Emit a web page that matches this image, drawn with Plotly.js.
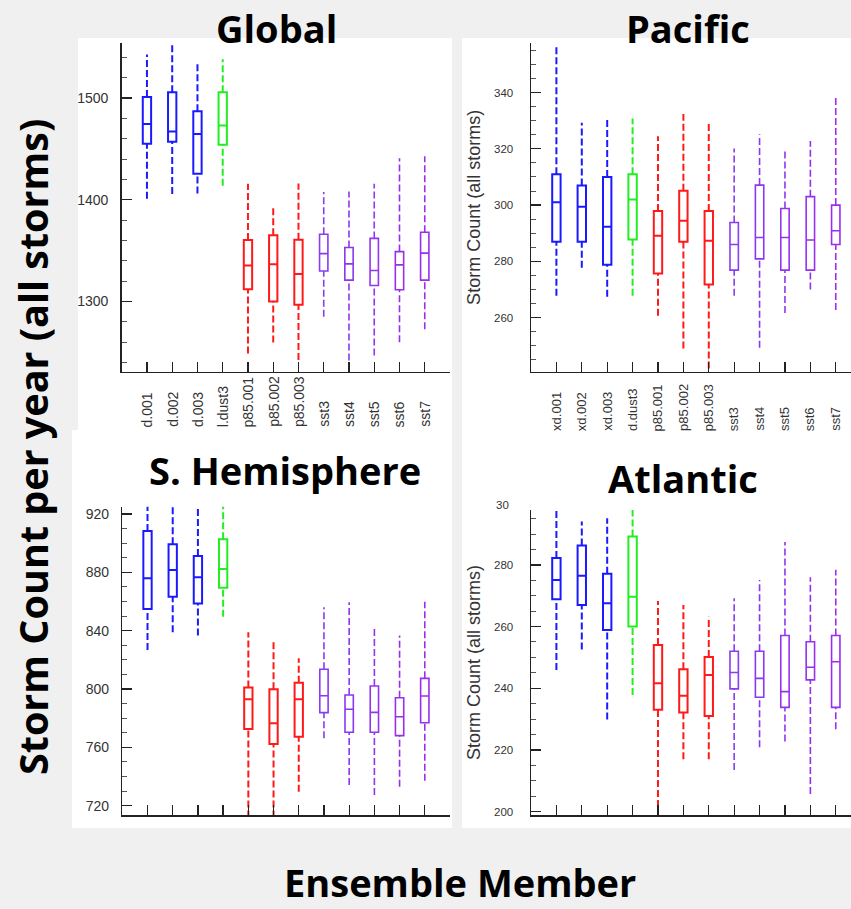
<!DOCTYPE html>
<html>
<head>
<meta charset="utf-8">
<script src="https://cdn.plot.ly/plotly-3.0.1.min.js"></script>
<style>
  html, body { margin: 0; padding: 0; background: #f0f0f0; }
  #chart { width: 851px; height: 909px; }
</style>
</head>
<body>
<div id="chart"></div>
<script>
// ---- categories (ensemble members) ----
const members = ["d.001","d.002","d.003","d.dust3","p85.001","p85.002","p85.003","sst3","sst4","sst5","sst6","sst7"];
const globalLabels  = ["d.001","d.002","d.003","l.dust3","p85.001","p85.002","p85.003","sst3","sst4","sst5","sst6","sst7"];
const pacificLabels = ["xd.001","xd.002","xd.003","d.dust3","p85.001","p85.002","p85.003","sst3","sst4","sst5","sst6","sst7"];
const memberColors = ["#1a1aff","#1a1aff","#1a1aff","#22ee22","#ff1a1a","#ff1a1a","#ff1a1a","#8a3cf0","#8c36f0","#9234f0","#9630ee","#9c2cee"];

// ---- Global ----
const glbLow  = [1401, 1405.6, 1406, 1413.8, 1249, 1259.7, 1242.6, 1285, 1242, 1247, 1260, 1272.8];
const glbQ1   = [1455, 1457, 1425.6, 1454, 1312, 1300, 1296.7, 1330, 1321, 1315.7, 1311.5, 1321];
const glbMed  = [1474.4, 1467, 1464.6, 1473, 1335.4, 1336.7, 1327, 1347, 1337, 1330.5, 1336, 1347.5];
const glbQ3   = [1501, 1505.6, 1487, 1505.6, 1360.3, 1365, 1360.7, 1366, 1353, 1362, 1349, 1368];
const glbHigh = [1542.6, 1556, 1536, 1538, 1415.7, 1392.5, 1416, 1407.5, 1408, 1415.7, 1440.7, 1442.6];

// ---- Pacific ----
const pacLow  = [267.8, 277.7, 267.4, 267.8, 260.7, 249, 241.9, 267.8, 249.3, 261.7, 270, 262.7];
const pacQ1   = [287, 287, 278.8, 287.8, 275.7, 287, 271.8, 276.9, 280.9, 276.9, 276.9, 286];
const pacMed  = [301, 299.4, 292.3, 302, 289.1, 294.4, 287.3, 286, 288.5, 288.5, 287.6, 290.9];
const pacQ3   = [311, 307, 310, 311, 297.9, 305.1, 297.9, 293.8, 307.1, 298.8, 303, 300];
const pacHigh = [356.3, 329.3, 331.2, 330.8, 324.5, 332.4, 329, 320.1, 325.2, 319.6, 322.8, 339.1];

// ---- S. Hemisphere ----
const shLow  = [826.7, 838.9, 836.6, 849.6, 705, 705, 729.6, 766.2, 734.2, 727.3, 733, 737.1];
const shQ1   = [854.9, 863.3, 858.7, 869.5, 772.6, 762.3, 767.3, 783.8, 770.3, 770.3, 768, 776.9];
const shMed  = [875.9, 881.6, 876.6, 882.3, 792.9, 776.5, 792.9, 795.4, 786.1, 784, 781, 795.2];
const shQ3   = [908.3, 899.2, 891.2, 902.6, 801.1, 799.8, 804.3, 813.5, 795.9, 802.1, 794, 807.3];
const shHigh = [935, 935, 935, 935, 838.9, 832.5, 821, 856, 859.4, 841.6, 836.6, 859.9];

// ---- Atlantic ----
const atlLow  = [245.9, 252.6, 229.9, 237.8, 195, 217, 217, 213.5, 220.9, 222.7, 205.7, 226.7];
const atlQ1   = [268.9, 267, 258.9, 260, 233, 232.1, 231, 239.8, 237.1, 233.8, 242.7, 233.8];
const atlMed  = [275.1, 276.5, 267.6, 269.7, 241.6, 237.6, 244.3, 245.1, 243.2, 238.9, 246.8, 248.6];
const atlQ3   = [282.2, 286.3, 277.1, 289.2, 254, 246.2, 250.1, 252, 252, 257.1, 255.1, 257.1];
const atlHigh = [300, 294.1, 295.1, 300, 268.3, 267, 263.2, 269.2, 275.1, 287.4, 276, 278.4];

const panelTitles = ["Global", "Pacific", "S. Hemisphere", "Atlantic"];
const yTitle = "Storm Count (all storms)";
const bigYTitle = "Storm Count per year (all storms)";
const bigXTitle = "Ensemble Member";

// ---- build traces ----
const W = 851, H = 909;
const px = v => v / W;
const py = v => 1 - v / H;

const panels = [
  {xa: "x",  ya: "y",  low: glbLow, q1: glbQ1, med: glbMed, q3: glbQ3, high: glbHigh},
  {xa: "x2", ya: "y2", low: pacLow, q1: pacQ1, med: pacMed, q3: pacQ3, high: pacHigh},
  {xa: "x3", ya: "y3", low: shLow,  q1: shQ1,  med: shMed,  q3: shQ3,  high: shHigh},
  {xa: "x4", ya: "y4", low: atlLow, q1: atlQ1, med: atlMed, q3: atlQ3, high: atlHigh}
];

const traces = [];
panels.forEach(p => {
  members.forEach((m, i) => {
    const col = memberColors[i];
    const lw = i >= 7 ? 1.6 : 2;
    // dashed whiskers
    traces.push({
      type: "scatter", mode: "lines", xaxis: p.xa, yaxis: p.ya,
      x: [m, m, null, m, m],
      y: [p.low[i], p.q1[i], null, p.q3[i], p.high[i]],
      line: {color: col, width: lw, dash: "7px,3px"},
      hoverinfo: "skip", showlegend: false
    });
    // box
    traces.push({
      type: "box", xaxis: p.xa, yaxis: p.ya,
      x: [m], q1: [p.q1[i]], median: [p.med[i]], q3: [p.q3[i]],
      lowerfence: [p.q1[i]], upperfence: [p.q3[i]],
      width: 0.33, whiskerwidth: 0,
      line: {color: col, width: lw},
      fillcolor: "rgba(255,255,255,0)",
      boxpoints: false, showlegend: false, name: m
    });
  });
});

// ---- axes ----
const tickFontL = {family: "Liberation Sans, Arial, sans-serif", size: 14, color: "#333"};
const tickFontR = {family: "Liberation Sans, Arial, sans-serif", size: 11.5, color: "#333"};
function xAxis(domain, rmax, anchor) {
  return {
    domain: domain, anchor: anchor, type: "category",
    categoryorder: "array", categoryarray: members,
    range: [-1, rmax], tickmode: "array", tickvals: members,
    ticks: "inside", ticklen: 10, tickwidth: 1.3, tickcolor: "#222",
    showticklabels: false, showline: true, linecolor: "#222", linewidth: 1.5,
    showgrid: false, zeroline: false, fixedrange: true
  };
}
function yAxis(domain, range, dtick, minorDtick, anchor, font, standoff) {
  return {
    domain: domain, anchor: anchor, range: range, dtick: dtick,
    ticks: "inside", ticklen: 10, tickwidth: 1.3, tickcolor: "#222",
    minor: {ticks: "inside", ticklen: 5, dtick: minorDtick, tickcolor: "#555", tickwidth: 1, showgrid: false},
    tickfont: font, ticklabelstandoff: standoff,
    showline: true, linecolor: "#222", linewidth: 1.5,
    showgrid: false, zeroline: false, fixedrange: true
  };
}

const layout = {
  width: W, height: H,
  margin: {l: 0, r: 0, t: 0, b: 0},
  paper_bgcolor: "#f0f0f0", plot_bgcolor: "rgba(0,0,0,0)",
  showlegend: false, boxmode: "overlay",
  xaxis:  xAxis([px(121.7), px(450)], 12, "y"),
  yaxis:  yAxis([py(371.7), py(43)], [1231, 1554], 100, 20, "x", tickFontL, 9),
  xaxis2: xAxis([px(531), 1], 11.6, "y2"),
  yaxis2: Object.assign(yAxis([py(371.7), py(43)], [240.8, 357.6], 20, 5, "x2", tickFontR, 14),
          {title: {text: yTitle, font: {family: "Liberation Sans, Arial, sans-serif", size: 18, color: "#333"}, standoff: 8}}),
  xaxis3: xAxis([px(122.3), px(450)], 12, "y3"),
  yaxis3: yAxis([py(815), py(506.7)], [713.6, 925], 40, 10, "x3", tickFontL, 9),
  xaxis4: xAxis([px(531), 1], 11.6, "y4"),
  yaxis4: Object.assign(yAxis([py(815), py(510)], [198.9, 297.8], 20, 5, "x4", tickFontR, 14),
          {title: {text: yTitle, font: {family: "Liberation Sans, Arial, sans-serif", size: 18, color: "#333"}, standoff: 8}}),
  shapes: [
    {type: "rect", xref: "paper", yref: "paper", x0: px(78), x1: px(452), y0: py(430), y1: py(38), fillcolor: "#ffffff", line: {width: 0}, layer: "below"},
    {type: "rect", xref: "paper", yref: "paper", x0: px(72), x1: px(452), y0: py(828), y1: py(430), fillcolor: "#ffffff", line: {width: 0}, layer: "below"},
    {type: "rect", xref: "paper", yref: "paper", x0: px(462), x1: 1, y0: py(433), y1: py(38), fillcolor: "#ffffff", line: {width: 0}, layer: "below"},
    {type: "rect", xref: "paper", yref: "paper", x0: px(462), x1: 1, y0: py(828), y1: py(433), fillcolor: "#ffffff", line: {width: 0}, layer: "below"}
  ],
  annotations: []
};

const titleFont = {family: "Open Sans, sans-serif", size: 38, color: "#000", weight: 700};
const titlePos = [[276, 28], [688, 28], [285, 470], [683, 478]];
panelTitles.forEach((t, k) => {
  layout.annotations.push({text: t, xref: "paper", yref: "paper", x: px(titlePos[k][0]), y: py(titlePos[k][1]),
    xanchor: "center", yanchor: "middle", showarrow: false, font: titleFont});
});
layout.annotations.push({text: bigYTitle, xref: "paper", yref: "paper", x: px(33), y: py(447), textangle: -90,
  xanchor: "center", yanchor: "middle", showarrow: false, font: Object.assign({}, titleFont, {size: 39.5})});
layout.annotations.push({text: bigXTitle, xref: "paper", yref: "paper", x: px(460), y: py(882),
  xanchor: "center", yanchor: "middle", showarrow: false, font: titleFont});

// x tick labels (start-aligned, reading upward) for the top panels
members.forEach((m, i) => {
  layout.annotations.push({text: globalLabels[i], xref: "x", yref: "paper", x: m, y: py(429), textangle: -90,
    xanchor: "center", yanchor: "bottom", showarrow: false, font: tickFontL});
  layout.annotations.push({text: pacificLabels[i], xref: "x2", yref: "paper", x: m, y: py(433), textangle: -90,
    xanchor: "center", yanchor: "bottom", showarrow: false, font: {family: "Liberation Sans, Arial, sans-serif", size: 13, color: "#333"}});
});
// clipped top tick label of the Atlantic panel
layout.annotations.push({text: "30", xref: "paper", yref: "paper", x: px(503), y: py(505),
  xanchor: "center", yanchor: "middle", showarrow: false, font: tickFontR});

Plotly.newPlot("chart", traces, layout, {staticPlot: true});
</script>
</body>
</html>
